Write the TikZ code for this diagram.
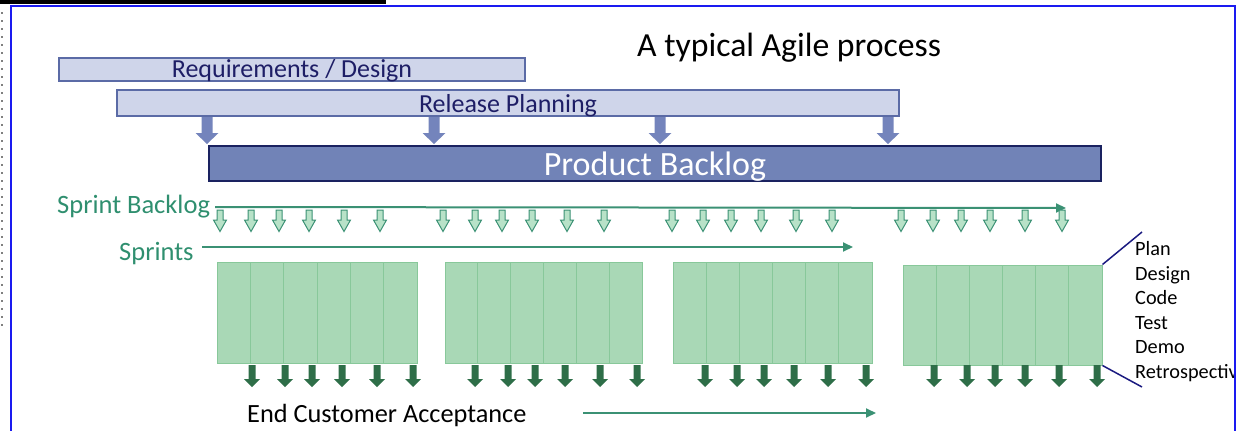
\documentclass[tikz,border=0pt]{standalone}
\usepackage{fontspec}
\setmainfont{Carlito}
\usetikzlibrary{arrows.meta}
\definecolor{lav}{HTML}{CFD5EA}
\definecolor{lavline}{HTML}{5B6BA6}
\definecolor{navytxt}{HTML}{1E1E66}
\definecolor{pbfill}{HTML}{7183B7}
\definecolor{pbline}{HTML}{1A2260}
\definecolor{barrow}{HTML}{7484BC}
\definecolor{gtxt}{HTML}{2F8F6F}
\definecolor{gline}{HTML}{3B9174}
\definecolor{cellfill}{HTML}{A9D8B6}
\definecolor{cellline}{HTML}{88C89A}
\definecolor{harrow}{HTML}{B8E2C8}
\definecolor{darrow}{HTML}{2E6E48}
\definecolor{frameblue}{HTML}{1A1AF0}
\definecolor{listline}{HTML}{1A1A80}
\tikzset{
  lavbox/.style={draw=lavline, fill=lav, line width=1.2pt, inner sep=0pt, text=navytxt, font=\fontsize{26}{30}\selectfont},
  pbbox/.style={draw=pbline, fill=pbfill, line width=1.5pt, inner sep=0pt, text=white, font=\fontsize{34}{40}\selectfont},
  gtext/.style={text=gtxt, inner sep=0pt, anchor=base west, font=\fontsize{26.5}{30}\selectfont},
  listtext/.style={inner sep=0pt, anchor=base west, font=\fontsize{20.3}{24}\selectfont},
  cell/.style={draw=cellline, fill=cellfill, line width=1pt, inner sep=0pt},
  gconn/.style={draw=gline, line width=2pt, -{Triangle[width=9pt,length=10pt]}},
  bluearrow/.pic={\fill[barrow] (-5.5,0) -- (5.5,0) -- (5.5,16) -- (11.5,16) -- (0,27) -- (-11.5,16) -- (-5.5,16) -- cycle;},
  hollowarrow/.pic={\draw[gline, fill=harrow, line width=1pt, line join=miter] (-3,0) -- (3,0) -- (3,10) -- (6.5,10) -- (0,21.5) -- (-6.5,10) -- (-3,10) -- cycle;},
  darkarrow/.pic={\fill[darrow] (-3.5,0) -- (3.5,0) -- (3.5,14) -- (8,14) -- (0,22) -- (-8,14) -- (-3.5,14) -- cycle;},
}
\begin{document}
\begin{tikzpicture}[x=1pt,y=-1pt]
\useasboundingbox (0,0) rectangle (1240,431);
% screenshot artefacts
\fill[black] (0,0) rectangle (386,4);
\draw[gray, line width=1.5pt, dash pattern=on 1.5pt off 6.5pt] (2,12) -- (2,330);
% title
\node[inner sep=0pt, anchor=base west, font=\fontsize{33.7}{40}\selectfont] (title) at (637,56.5) {A typical Agile process};
% top boxes (text height/depth put each baseline where the screenshot has it)
\node[lavbox, minimum width=466pt, minimum height=23pt, text height=15pt, text depth=0pt] (req) at (292,69.5) {Requirements / Design};
\node[lavbox, minimum width=782pt, minimum height=26pt, text height=18pt, text depth=0pt] (rel) at (508,103) {Release Planning};
\node[pbbox, minimum width=892pt, minimum height=35pt, text height=23pt, text depth=0pt] (pb) at (655,163.5) {Product Backlog};
% blue arrows
\foreach \x [count=\i] in {207,434,660,888} { \pic (ba\i) at (\x,117) {bluearrow}; }
% sprint backlog
\node[gtext] (sbl) at (57,213) {Sprint Backlog};
\coordinate (sbs) at (215,207);
\coordinate (sbe) at (1066,208);
\path[gconn] (sbs) -- (sbe);
\foreach \x [count=\i] in {220,251,279,309,344,380,443,475,502,532,567,604,672,703,731,761,796,832,901,933,961,990,1025,1062}
  { \pic (ha\i) at (\x,210) {hollowarrow}; }
% sprints
\node[gtext] (spl) at (119,260.5) {Sprints};
\coordinate (sps) at (202,247);
\coordinate (spe) at (853,247);
\path[gconn] (sps) -- (spe);
% sprint cells
\foreach \g/\xa/\xb/\ya/\yb in {1/217/417/262/363, 2/445/642/262/363, 3/673/872/262/363, 4/903/1102/265/365} {
  \foreach \k in {0,...,5} {
    \pgfmathsetmacro{\w}{(\xb-\xa)/6}
    \pgfmathsetmacro{\cx}{\xa+\w*(\k+0.5)}
    \pgfmathsetmacro{\cy}{(\ya+\yb)/2}
    \pgfmathsetmacro{\h}{\yb-\ya}
    \node[cell, minimum width=\w pt, minimum height=\h pt] (c\g-\k) at (\cx,\cy) {};
  }
}
% dark arrows
\foreach \x [count=\i] in {252,285,312,342,377,413,475,508,535,565,600,637,705,737,764,794,828,866,934,967,995,1025,1059,1097}
  { \pic (da\i) at (\x,365) {darkarrow}; }
% end customer acceptance
\node[inner sep=0pt, anchor=base west, font=\fontsize{26.3}{30}\selectfont] (eca) at (247,422.5) {End Customer Acceptance};
\coordinate (ecs) at (583,413);
\coordinate (ece) at (876,413);
\path[gconn] (ecs) -- (ece);
% activity list (clipped by the frame, as in the screenshot)
\begin{scope}
\clip (0,0) rectangle (1234,431);
\node[listtext] (l1) at (1135,255) {Plan};
\node[listtext] (l2) at (1135,280) {Design};
\node[listtext] (l3) at (1135,304.5) {Code};
\node[listtext] (l4) at (1135,329) {Test};
\node[listtext] (l5) at (1135,353.5) {Demo};
\node[listtext] (l6) at (1135,378) {Retrospective};
\end{scope}
\coordinate (lt) at (1142,232);
\coordinate (lb) at (1142,387);
\draw[listline, line width=1.5pt] (c4-5.north east) -- (lt);
\draw[listline, line width=1.5pt] (c4-5.south east) -- (lb);
% frame
\draw[frameblue, line width=2pt] (11,431) -- (11,6) -- (1235,6) -- (1235,431);
\end{tikzpicture}
\end{document}
